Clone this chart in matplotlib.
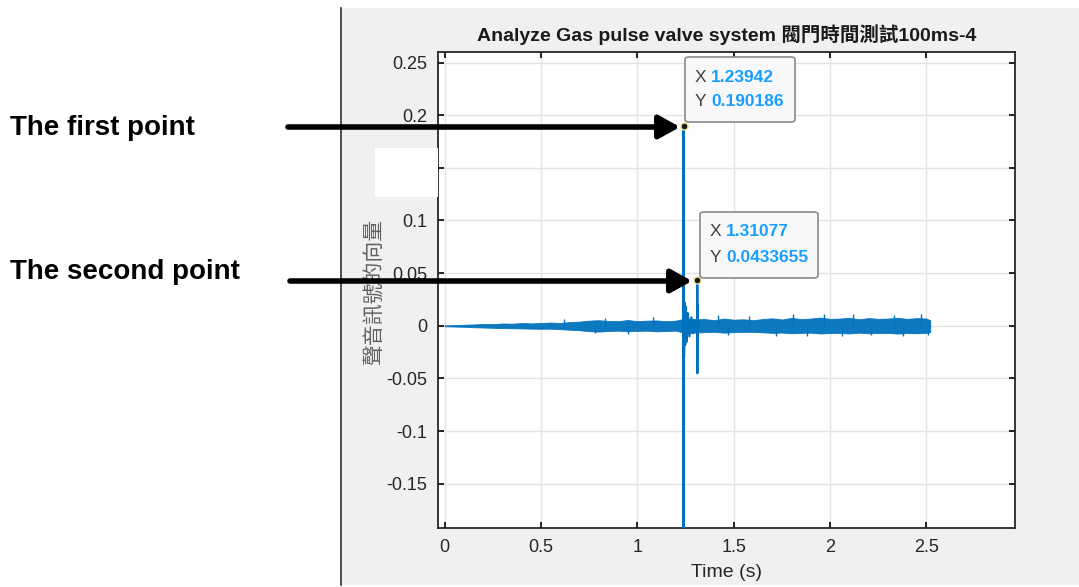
import matplotlib.pyplot as plt
from matplotlib.patches import Rectangle, FancyArrowPatch, FancyBboxPatch

env_t = [0.00, 0.05, 0.10, 0.15, 0.20, 0.25, 0.30, 0.35, 0.40, 0.45,
         0.50, 0.55, 0.60, 0.65, 0.70, 0.75, 0.80, 0.85, 0.90, 0.95,
         1.00, 1.05, 1.10, 1.15, 1.20, 1.25, 1.30, 1.35, 1.40, 1.45,
         1.50, 1.55, 1.60, 1.65, 1.70, 1.75, 1.80, 1.85, 1.90, 1.95,
         2.00, 2.05, 2.10, 2.15, 2.20, 2.25, 2.30, 2.35, 2.40, 2.45,
         2.50, 2.52]
env_hi = [0.0004, 0.0007, 0.0010, 0.0013, 0.0017, 0.0016, 0.0022, 0.0020, 0.0026, 0.0023,
          0.0027, 0.0031, 0.0027, 0.0036, 0.0040, 0.0049, 0.0053, 0.0046, 0.0044, 0.0055,
          0.0044, 0.0049, 0.0051, 0.0044, 0.0049, 0.0070, 0.0062, 0.0064, 0.0053, 0.0069,
          0.0058, 0.0062, 0.0053, 0.0064, 0.0071, 0.0060, 0.0075, 0.0064, 0.0069, 0.0078,
          0.0066, 0.0069, 0.0076, 0.0062, 0.0073, 0.0066, 0.0069, 0.0076, 0.0066, 0.0073,
          0.0069, 0.0053]
env_lo = [-0.0004, -0.0007, -0.0009, -0.0014, -0.0016, -0.0019, -0.0021, -0.0023, -0.0025, -0.0027,
          -0.0028, -0.0027, -0.0032, -0.0037, -0.0042, -0.0051, -0.0055, -0.0049, -0.0046, -0.0051,
          -0.0048, -0.0046, -0.0053, -0.0049, -0.0046, -0.0071, -0.0064, -0.0060, -0.0057, -0.0065,
          -0.0060, -0.0058, -0.0057, -0.0062, -0.0067, -0.0064, -0.0071, -0.0067, -0.0065, -0.0073,
          -0.0069, -0.0067, -0.0073, -0.0065, -0.0071, -0.0069, -0.0067, -0.0074, -0.0069, -0.0071,
          -0.0067, -0.0058]

# isolated noise peaks sticking out of the band
peak_t = [0.62, 0.78, 0.83, 0.95, 1.08, 1.42, 1.47, 1.58, 1.72, 1.81, 1.88,
          1.97, 2.06, 2.12, 2.21, 2.33, 2.38, 2.47, 2.51]
peak_v = [0.0060, -0.0070, 0.0075, -0.0080, 0.0085, 0.0100, -0.0090, 0.0090, -0.0100, 0.0110, -0.0095,
          0.0115, -0.0100, 0.0110, -0.0090, 0.0105, -0.0095, 0.0110, -0.0085]

# valve opening / closing events
spike_t = [1.2388, 1.23942, 1.2398, 1.2402, 1.2406, 1.2412, 1.2420, 1.2450, 1.2480,
           1.2520, 1.2560, 1.2620, 1.2700, 1.2800, 1.2900, 1.3000, 1.3100, 1.31077,
           1.3112, 1.3118, 1.3125, 1.3150, 1.3200]
spike_v = [0.0000, 0.190186, -0.2000, 0.0930, -0.0600, 0.0300, -0.0300, 0.0220, -0.0180,
           0.0180, -0.0150, 0.0120, -0.0100, 0.0080, -0.0070, 0.0050, -0.0040, 0.0433655,
           -0.0450, 0.0200, -0.0100, 0.0060, 0.0000]

tips = [(1.23942, 0.190186), (1.31077, 0.0433655)]
tip_text = [("1.23942", "0.190186"), ("1.31077", "0.0433655")]
point_labels = ["The first point", "The second point"]

W, H = 1079, 587
line_c = "#0072BD"
num_font = ["Liberation Sans Narrow", "Liberation Sans"]


def fx(px):
    return px / W


def fy(py):
    return 1 - py / H


fig = plt.figure(figsize=(W / 100, H / 100), dpi=100)
fig.patch.set_facecolor("white")

# grey matlab figure window
fig.add_artist(Rectangle((fx(341), fy(585)), fx(1079) - fx(341), fy(8) - fy(585),
                         transform=fig.transFigure, facecolor="#f0f0f0", edgecolor="none", zorder=0))
fig.add_artist(plt.Line2D([fx(341), fx(341)], [fy(8), fy(585)], transform=fig.transFigure,
                          color="#333333", lw=1.2, zorder=1))

ax = fig.add_axes([fx(438), fy(528), fx(1015) - fx(438), fy(52) - fy(528)])
ax.set_facecolor("white")

ax.fill_between(env_t, env_lo, env_hi, color=line_c, lw=0.6, alpha=0.95, zorder=3)
ax.vlines(peak_t, 0, peak_v, color=line_c, lw=1.0, zorder=3)
ax.plot(spike_t, spike_v, color=line_c, lw=1.6, zorder=4)

ax.set_xlim(-0.035, 2.96)
ax.set_ylim(-0.192, 0.26)
ax.set_xticks([0, 0.5, 1, 1.5, 2, 2.5])
ax.set_xticklabels(["0", "0.5", "1", "1.5", "2", "2.5"])
ax.set_yticks([-0.15, -0.1, -0.05, 0, 0.05, 0.1, 0.15, 0.2, 0.25])
ax.set_yticklabels(["-0.15", "-0.1", "-0.05", "0", "0.05", "0.1", "0.15", "0.2", "0.25"])
ax.grid(True, color="#e3e3e3", lw=1.0)
ax.set_axisbelow(True)
ax.tick_params(direction="in", top=True, right=True, length=4, width=1.2,
               labelsize=13, labelcolor="#262626", pad=8)
for lab in ax.get_xticklabels() + ax.get_yticklabels():
    lab.set_family(num_font)
for s in ax.spines.values():
    s.set_color("#262626")
    s.set_linewidth(1.3)

ax.set_xlabel("Time (s)", fontsize=14, family=num_font, color="#262626", labelpad=6)
ax.set_title("Analyze Gas pulse valve system 閥門時間測試100ms-4", fontsize=14, fontweight="bold",
             family=["Liberation Sans", "Noto Sans CJK TC"], color="#1a1a1a", pad=8)
fig.text(fx(374), fy(292), "聲音訊號的向量", rotation=90, ha="center", va="center",
         fontsize=15, family=["Noto Sans CJK TC"], color="#606060")

# white patch hiding the 0.15 label
fig.add_artist(Rectangle((fx(375), fy(197)), fx(438) - fx(375), fy(148) - fy(197),
                         transform=fig.transFigure, facecolor="white", edgecolor="none", zorder=5))

# data tips
box_px = [(685, 57, 795, 122), (700, 212, 818, 278)]
for (tx, ty), (xs, ys), (x0, y0, x1, y1) in zip(tips, tip_text, box_px):
    ax.plot([tx], [ty], "o", ms=5, mfc="#1a1a1a", mec="#e8e08a", mew=1, zorder=6, clip_on=False)
    fig.add_artist(FancyBboxPatch((fx(x0), fy(y1)), fx(x1) - fx(x0), fy(y0) - fy(y1),
                                  boxstyle="round,pad=0,rounding_size=0.004",
                                  transform=fig.transFigure, facecolor="#f8f8fa",
                                  edgecolor="#8a8a8a", lw=1.2, zorder=6))
    for k, (key, val) in enumerate([("X", xs), ("Y", ys)]):
        yy = y0 + 20 + k * 25
        fig.text(fx(x0 + 10), fy(yy), key, fontsize=12.5, family=num_font, color="#404040",
                 va="center", zorder=7)
        fig.text(fx(x0 + 26), fy(yy), val, fontsize=12.5, family=num_font, color="#1a9fff",
                 fontweight="bold", va="center", zorder=7)

# arrows and labels on the slide
arrow_px = [(288, 680, 127), (290, 692, 281)]
label_py = [128, 272]
for (xa, xb, ya), lab, ly in zip(arrow_px, point_labels, label_py):
    fig.add_artist(FancyArrowPatch((fx(xa), fy(ya)), (fx(xb), fy(ya)), transform=fig.transFigure,
                                   arrowstyle="-|>,head_length=0.9,head_width=0.5", mutation_scale=14,
                                   lw=4, color="black", shrinkA=0, shrinkB=0, zorder=8))
    fig.text(fx(10), fy(ly), lab, fontsize=20, fontweight="bold", family=["Liberation Sans"],
             color="black", va="center", ha="left")

fig.savefig("out.png", dpi=100)
